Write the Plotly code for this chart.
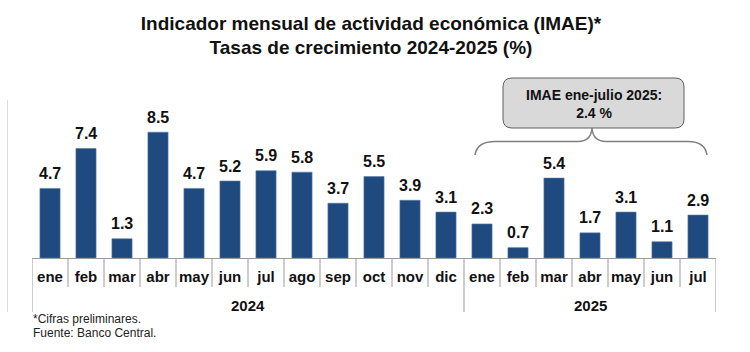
import plotly.graph_objects as go

# ---- data ----
meses_2024 = ["ene", "feb", "mar", "abr", "may", "jun", "jul", "ago", "sep", "oct", "nov", "dic"]
meses_2025 = ["ene", "feb", "mar", "abr", "may", "jun", "jul"]
valores_2024 = [4.7, 7.4, 1.3, 8.5, 4.7, 5.2, 5.9, 5.8, 3.7, 5.5, 3.9, 3.1]
valores_2025 = [2.3, 0.7, 5.4, 1.7, 3.1, 1.1, 2.9]
anios = ["2024", "2025"]
titulo = ["Indicador mensual de actividad económica (IMAE)*", "Tasas de crecimiento 2024-2025 (%)"]
recuadro = ["IMAE ene-julio 2025:", "2.4 %"]
notas = ["*Cifras preliminares.", "Fuente: Banco Central."]

meses = meses_2024 + meses_2025
valores = valores_2024 + valores_2025
xs = list(range(len(meses)))

FONT = "Liberation Sans, Arial, sans-serif"
W, H = 750, 352
ML, MR, MT, MB = 32, 34, 110, 94
PW, PH = W - ML - MR, H - MT - MB


def px(x):
    return (x - ML) / PW


def py(y):
    return (H - MB - y) / PH


fig = go.Figure()
fig.add_trace(go.Bar(
    x=xs, y=valores, width=0.56,
    marker=dict(color="#1F4A80", line=dict(color="#5a7aa6", width=0.6)),
    hoverinfo="skip",
))

annotations = []
# value labels
for x, v in zip(xs, valores):
    annotations.append(dict(x=x, y=v, xref="x", yref="y", text=f"<b>{v:.1f}</b>",
                            showarrow=False, yanchor="middle", xanchor="center", yshift=15,
                            font=dict(family=FONT, size=16, color="#111111")))

shapes = []
n24, n25 = len(meses_2024), len(meses_2025)
bounds_year = [-0.5, n24 - 0.5, n24 + n25 - 0.5]
# month separators
for i in range(len(meses) + 1):
    xb = i - 0.5
    if xb in bounds_year:
        continue
    shapes.append(dict(type="line", xref="x", yref="paper", x0=xb, x1=xb,
                       y0=py(259), y1=py(287), line=dict(color="#9a9a9a", width=1)))
for xb in bounds_year:
    shapes.append(dict(type="line", xref="x", yref="paper", x0=xb, x1=xb,
                       y0=py(259), y1=py(312), line=dict(color="#9a9a9a", width=1)))
# faint left line
shapes.append(dict(type="line", xref="paper", yref="paper", x0=px(7.5), x1=px(7.5),
                   y0=py(100), y1=py(312), line=dict(color="#dddddd", width=1)))

# year labels
groups = [(0, n24 - 1), (n24, n24 + n25 - 1)]
for (a, b), yr in zip(groups, anios):
    annotations.append(dict(x=(a + b) / 2, y=py(305), xref="x", yref="paper",
                            text=f"<b>{yr}</b>", showarrow=False, yanchor="middle",
                            xanchor="center",
                            font=dict(family=FONT, size=15, color="#111111")))

# rounded box
bx0, bx1, by0, by1, r = 503, 684, 78, 128, 9
rx, ry = r / PW, r / PH
X0, X1, Y0, Y1 = px(bx0), px(bx1), py(by1), py(by0)
path = (f"M {X0+rx},{Y1} L {X1-rx},{Y1} Q {X1},{Y1} {X1},{Y1-ry} "
        f"L {X1},{Y0+ry} Q {X1},{Y0} {X1-rx},{Y0} L {X0+rx},{Y0} "
        f"Q {X0},{Y0} {X0},{Y0+ry} L {X0},{Y1-ry} Q {X0},{Y1} {X0+rx},{Y1} Z")
shapes.append(dict(type="path", xref="paper", yref="paper", path=path,
                   fillcolor="#d9d9d9", line=dict(color="#606060", width=1)))
annotations.append(dict(x=px((bx0 + bx1) / 2), y=py(104), xref="paper", yref="paper",
                        text="<b>" + "<br>".join(recuadro) + "</b>", showarrow=False,
                        xanchor="center", yanchor="middle", align="center",
                        font=dict(family=FONT, size=14, color="#111111")))

# brace
pts = [(475, 155), (477, 141.5), (495, 141.5), (578, 141.5), (591, 141.5), (592, 128),
       (593, 141.5), (606, 141.5), (688, 141.5), (705, 141.5), (707, 155)]
P = [(px(a), py(b)) for a, b in pts]
bpath = (f"M {P[0][0]},{P[0][1]} Q {P[1][0]},{P[1][1]} {P[2][0]},{P[2][1]} "
         f"L {P[3][0]},{P[3][1]} Q {P[4][0]},{P[4][1]} {P[5][0]},{P[5][1]} "
         f"Q {P[6][0]},{P[6][1]} {P[7][0]},{P[7][1]} L {P[8][0]},{P[8][1]} "
         f"Q {P[9][0]},{P[9][1]} {P[10][0]},{P[10][1]}")
shapes.append(dict(type="path", xref="paper", yref="paper", path=bpath,
                   line=dict(color="#808080", width=1.5)))

# footnotes
for t, yy in zip(notas, [319, 333]):
    annotations.append(dict(x=px(31), y=py(yy), xref="paper", yref="paper", text=t,
                            showarrow=False, xanchor="left", yanchor="middle",
                            font=dict(family=FONT, size=12, color="#222222")))

fig.update_layout(
    width=W, height=H,
    margin=dict(l=ML, r=MR, t=MT, b=MB, pad=0),
    paper_bgcolor="white", plot_bgcolor="white",
    showlegend=False,
    title=dict(text="<b>" + "<br>".join(titulo) + "</b>", x=371 / W, xanchor="center",
               y=1 - 29.5 / H, yanchor="middle",
               font=dict(family=FONT, size=19, color="#111111")),
    xaxis=dict(range=[-0.5, len(meses) - 0.5], tickmode="array", tickvals=xs,
               ticktext=[f"<b>{m}</b>" for m in meses], ticks="", ticklabelstandoff=5,
               showline=True, linecolor="#9a9a9a", linewidth=1, showgrid=False,
               zeroline=False, tickfont=dict(family=FONT, size=15, color="#111111"),
               fixedrange=True),
    yaxis=dict(range=[0, 10], visible=False, fixedrange=True),
    shapes=shapes, annotations=annotations,
)

fig.write_html("out.html")
